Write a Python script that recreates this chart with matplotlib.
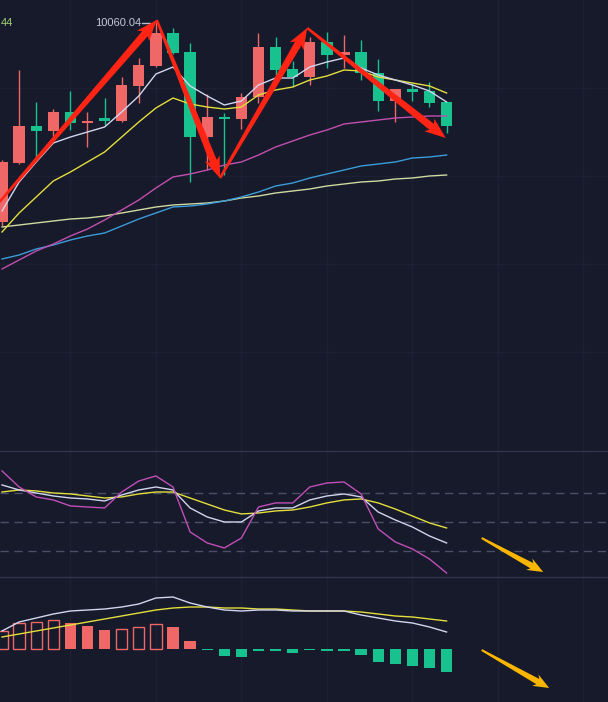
import numpy as np
import matplotlib
matplotlib.use("Agg")
import matplotlib.pyplot as plt
from matplotlib.patches import Polygon
from matplotlib.transforms import IdentityTransform

plt.rcParams['font.family'] = ['Liberation Sans', 'DejaVu Sans']

# ---------------- data ----------------
opens  = [9660, 9778, 9852, 9842, 9880, 9858, 9868, 9862, 9932, 9972, 10038, 10000, 9830, 9870,
          9866, 9910, 10010, 9966, 9950, 10020, 9994, 10000, 9958, 9902, 9926, 9922, 9900]
highs  = [9784, 9964, 9900, 9886, 9922, 9880, 9908, 9950, 9988, 10060.04, 10048, 10018, 9916, 9878,
          9918, 10038, 10030, 9982, 10030, 10040, 10034, 10024, 9986, 9926, 9938, 9940, 9900]
lows   = [9652, 9776, 9790, 9832, 9844, 9810, 9854, 9860, 9898, 9970, 9996, 9740, 9764, 9754,
          9846, 9898, 9950, 9930, 9934, 9968, 9968, 9944, 9882, 9860, 9902, 9890, 9838]
closes = [9780, 9852, 9842, 9880, 9858, 9862, 9862, 9934, 9974, 10038, 9998, 9830, 9870, 9866,
          9910, 10010, 9964, 9950, 10020, 9994, 10000, 9958, 9902, 9926, 9920, 9898, 9852]

ma5  = [9682, 9740, 9780, 9818, 9830, 9840, 9850, 9880, 9912, 9956, 9970, 9932, 9912, 9894,
        9902, 9934, 9948, 9948, 9970, 9980, 9988, 9968, 9954, 9944, 9934, 9922, 9900]
ma10 = [9640, 9678, 9710, 9742, 9760, 9780, 9800, 9830, 9860, 9888, 9908, 9896, 9890, 9886,
        9890, 9914, 9924, 9930, 9944, 9952, 9964, 9962, 9950, 9944, 9938, 9932, 9918]
ma30 = [9566, 9584, 9602, 9616, 9632, 9646, 9664, 9684, 9704, 9728, 9750, 9756, 9764, 9774,
        9780, 9794, 9810, 9822, 9834, 9844, 9856, 9860, 9864, 9868, 9870, 9872, 9872]
ma60 = [9586, 9594, 9606, 9614, 9624, 9632, 9638, 9652, 9666, 9678, 9690, 9692, 9696, 9702,
        9710, 9720, 9732, 9738, 9748, 9756, 9764, 9772, 9776, 9780, 9788, 9790, 9794]
ma120 = [9650, 9654, 9658, 9662, 9666, 9668, 9672, 9678, 9684, 9690, 9694, 9696, 9698, 9702,
         9708, 9712, 9718, 9722, 9726, 9732, 9736, 9740, 9742, 9746, 9748, 9752, 9754]

kdj_k = [88.3, 83.1, 80.0, 76.9, 74.8, 73.8, 71.7, 77.9, 83.1, 86.2, 83.1, 64.5, 55.2, 50.0,
         50.0, 61.4, 64.5, 64.5, 72.8, 76.9, 79.0, 75.9, 60.3, 52.1, 44.8, 35.5, 28.3]
kdj_d = [81.0, 83.1, 82.1, 80.0, 79.0, 76.9, 74.8, 75.9, 79.0, 81.0, 81.0, 74.8, 68.6, 62.4,
         58.3, 59.3, 61.4, 62.4, 65.5, 69.7, 72.8, 73.8, 69.7, 63.4, 56.2, 49.0, 43.8]
kdj_j = [102.8, 86.2, 75.9, 72.8, 66.6, 65.5, 64.5, 81.0, 92.4, 97.6, 86.2, 39.7, 28.3, 23.1,
         33.4, 65.5, 69.7, 69.7, 86.2, 90.3, 91.4, 79.0, 42.8, 29.3, 22.1, 11.7, -2.8]
kdj_levels = [80, 50, 20]

macd_hist = [18, 26, 27, 29, 26, 23, 19.5, 20, 22, 25, 22, 8, -1.2, -7, -8, -1.5, -1.5, -4,
             -1.0, -1.5, -1.5, -6, -13, -15, -17, -19, -23]
macd_dif = [18, 27, 31, 35, 38, 39, 40, 42, 45, 51, 52, 46, 42, 39, 38, 39, 39, 38, 38, 38,
            38, 34, 31, 28, 26, 22, 17]
macd_dea = [12, 15, 18, 21, 24, 27, 30, 33, 36, 39, 41, 42, 42, 41, 41, 40, 40, 39, 38, 38,
            38, 37, 35, 33, 32, 30, 28]

# annotation arrows (candle index, value)
red_arrow_x = [-0.15, 9.05, 12.75, 17.85, 25.95]
red_arrow_y = [9700, 10064, 9748, 10048, 9828]
kdj_arrow = [(28.05, 33.4), (31.65, -1.7)]
macd_arrow = [(28.05, -1.0), (32.0, -39.0)]
left_label = "44"

# ---------------- style ----------------
BG = '#161a2b'
GRID = '#1c2032'
SEP = '#30354b'
UP = '#ef6767'
DOWN = '#17c28e'
W, H = 608, 702

fig = plt.figure(figsize=(W / 100, H / 100), dpi=100, facecolor=BG)
ax1 = fig.add_axes([0, 251 / H, 1, 451 / H])
ax2 = fig.add_axes([0, 125 / H, 1, 126 / H])
ax3 = fig.add_axes([0, 0, 1, 125 / H])

n = len(opens)
x = np.arange(n)
XL = (-2 / 17.1, 606 / 17.1)
for ax in (ax1, ax2, ax3):
    ax.set_facecolor(BG)
    ax.set_xlim(*XL)
    for s in ax.spines.values():
        s.set_visible(False)
    ax.set_xticks(np.arange(4, 36, 5))
    ax.tick_params(length=0, labelbottom=False, labelleft=False)
    ax.grid(True, axis='x', color=GRID, lw=1)
    ax.set_axisbelow(True)

# ---- main panel ----
ax1.set_ylim(9202, 10104)
ax1.set_yticks([9928, 9752, 9576, 9400])
ax1.grid(True, axis='y', color=GRID, lw=1)
o = np.array(opens); c = np.array(closes)
up = c >= o
cols = [UP if u else DOWN for u in up]
ax1.vlines(x, lows, highs, colors=cols, lw=1, zorder=3)
bottoms = np.minimum(o, c)
heights = np.maximum(np.abs(c - o), 2)
ax1.bar(x, heights, bottom=bottoms, width=0.66, color=cols, zorder=4)

for vals, col in [(ma120, '#cfd9a0'), (ma60, '#3b9cd8'), (ma30, '#c24fae'),
                  (ma10, '#e4de3c'), (ma5, '#d2d5ee')]:
    ax1.plot(x, vals, color=col, lw=1.0, zorder=5)

imax = int(np.argmax(highs))
hmax = highs[imax]
ax1.plot([imax - 0.8, imax - 0.35], [hmax - 2, hmax - 2], color='#b8bccb', lw=1, zorder=6)
ax1.text(imax - 0.88, hmax - 2, f"{hmax:.2f}", color='#c4c8d6', fontsize=8,
         ha='right', va='center', zorder=6)
ax1.text(1 / W, 1 - 23 / 451, left_label, color='#a6d274', fontsize=8,
         ha='left', va='center', transform=ax1.transAxes)

# ---- KDJ panel ----
ax2.set_ylim(-6.9, 123.4)
ax2.set_yticks([])
for lv in kdj_levels:
    ax2.axhline(lv, color='#4a4f66', lw=1, ls=(0, (6, 4)), zorder=2)
ax2.plot(x, kdj_d, color='#e4de3c', lw=1.0, zorder=4)
ax2.plot(x, kdj_k, color='#d2d5ee', lw=1.0, zorder=5)
ax2.plot(x, kdj_j, color='#c24fb6', lw=1.0, zorder=6)

# ---- MACD panel ----
ax3.set_ylim(-53, 72)
ax3.set_yticks([])
h = np.array(macd_hist)
for i, v in enumerate(h):
    prev = h[i - 1] if i > 0 else -1e9
    if v >= 0:
        if v >= prev:
            ax3.bar(i, v, width=0.66, facecolor='none', edgecolor=UP, lw=1, zorder=3)
        else:
            ax3.bar(i, v, width=0.66, color=UP, zorder=3)
    else:
        ax3.bar(i, v, width=0.66, color=DOWN, zorder=3)
ax3.plot(x, macd_dea, color='#e4de3c', lw=1.0, zorder=4)
ax3.plot(x, macd_dif, color='#d2d5ee', lw=1.0, zorder=5)

# separators
for yy in (451, 577):
    fig.add_artist(plt.Line2D([0, 1], [1 - yy / H, 1 - yy / H], color=SEP, lw=1,
                              transform=fig.transFigure))


def brush_arrow(ax, p0, p1, color, w0, w1, hw, hl, back=0.0):
    T = ax.transData
    a = np.array(T.transform(p0))
    b = np.array(T.transform(p1))
    d = b - a
    L = np.hypot(*d)
    u = d / L
    nv = np.array([-u[1], u[0]])
    neck = b - u * hl
    barb = neck - u * back
    pts = [a + nv * w0 / 2, neck + nv * w1 / 2, barb + nv * hw / 2, b,
           barb - nv * hw / 2, neck - nv * w1 / 2, a - nv * w0 / 2]
    ax.add_patch(Polygon(pts, closed=True, transform=IdentityTransform(),
                         facecolor=color, edgecolor='none', zorder=10))


for i in range(len(red_arrow_x) - 1):
    brush_arrow(ax1, (red_arrow_x[i], red_arrow_y[i]), (red_arrow_x[i + 1], red_arrow_y[i + 1]),
                '#ff2414', 2.5, 7.5, 16, 18, back=3)

brush_arrow(ax2, kdj_arrow[0], kdj_arrow[1], '#f9b500', 2, 6, 13, 13, back=3)
brush_arrow(ax3, macd_arrow[0], macd_arrow[1], '#f9b500', 2, 6, 13, 13, back=3)

fig.savefig('out.png', dpi=100, facecolor=BG)
